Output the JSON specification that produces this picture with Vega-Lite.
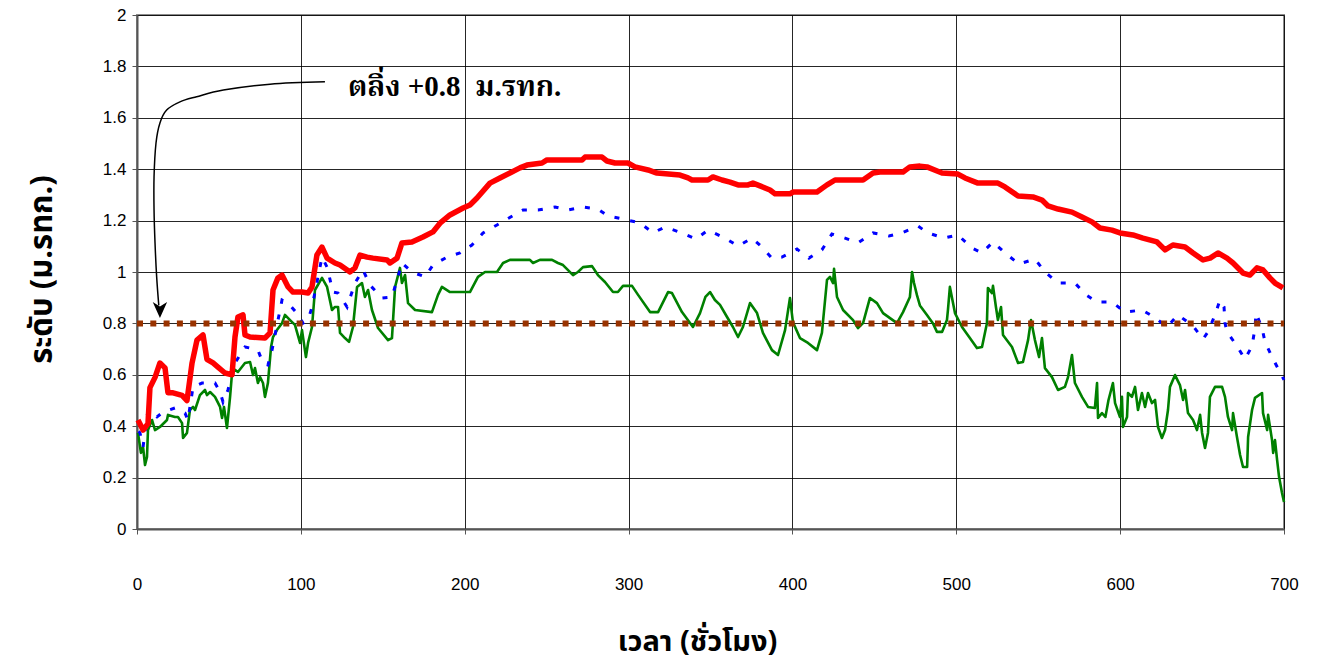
{
  "$schema": "https://vega.github.io/schema/vega-lite/v6.json",
  "autosize": "none",
  "width": 1147,
  "height": 514,
  "padding": {"left": 137, "top": 15, "right": 35, "bottom": 136},
  "background": "#ffffff",
  "config": {
    "view": {"stroke": "#8c8c8c", "strokeWidth": 2},
    "axis": {
      "labelFont": "Liberation Sans",
      "labelFontSize": 17,
      "labelColor": "#000000",
      "labelFlush": false,
      "gridColor": "#000000",
      "gridWidth": 1,
      "gridOpacity": 0.85,
      "domainColor": "#555555",
      "domainWidth": 2,
      "tickColor": "#555555",
      "tickSize": 5,
      "titleFont": "Noto Sans Thai, Tahoma, Loma, Garuda, sans-serif",
      "titleFontSize": 31,
      "titleFontWeight": "bold",
      "titleColor": "#000000"
    }
  },
  "layer": [
    {
      "data": {"values": [{"t": 0, "h": 0}, {"t": 700, "h": 2}]},
      "mark": {"type": "point", "opacity": 0},
      "encoding": {
        "x": {"field": "t", "type": "quantitative", "scale": {"domain": [0, 700], "nice": false},
          "axis": {"values": [0, 100, 200, 300, 400, 500, 600, 700], "labelPadding": 42, "title": "เวลา (ชั่วโมง)", "titleFontSize": 29, "titleX": 560, "titleY": 112, "titleBaseline": "middle", "titleAnchor": "start", "titleAlign": "center"}},
        "y": {"field": "h", "type": "quantitative", "scale": {"domain": [0, 2], "nice": false},
          "axis": {"values": [0, 0.2, 0.4, 0.6, 0.8, 1, 1.2, 1.4, 1.6, 1.8, 2], "format": "~g", "labelPadding": 6, "title": "ระดับ (ม.รทก.)", "titleX": -95, "titleY": 254, "titleBaseline": "middle", "titleAlign": "center", "titleAnchor": "start"}}
      }
    },
    {
      "data": {"values": [
        {"t":0.6,"h":0.374},{"t":2.4,"h":0.296},{"t":3.7,"h":0.319},{"t":4.9,"h":0.249},{"t":6.1,"h":0.28},{"t":6.7,"h":0.385},{"t":9.2,"h":0.424},{"t":11.0,"h":0.385},{"t":14.0,"h":0.397},{"t":18.3,"h":0.424},{"t":18.9,"h":0.444},{"t":23.2,"h":0.436},{"t":25.0,"h":0.436},{"t":27.5,"h":0.412},{"t":28.1,"h":0.354},{"t":30.5,"h":0.374},{"t":32.3,"h":0.463},{"t":34.2,"h":0.475},{"t":35.4,"h":0.463},{"t":38.4,"h":0.521},{"t":41.5,"h":0.541},{"t":42.7,"h":0.521},{"t":44.6,"h":0.533},{"t":47.6,"h":0.514},{"t":50.7,"h":0.475},{"t":51.9,"h":0.432},{"t":53.1,"h":0.475},{"t":54.9,"h":0.393},{"t":56.8,"h":0.514},{"t":58.0,"h":0.607},{"t":59.8,"h":0.619},{"t":61.6,"h":0.611},{"t":65.9,"h":0.646},{"t":69.0,"h":0.65},{"t":70.8,"h":0.599},{"t":72.0,"h":0.626},{"t":73.8,"h":0.568},{"t":75.1,"h":0.591},{"t":76.9,"h":0.568},{"t":78.1,"h":0.514},{"t":79.9,"h":0.568},{"t":81.8,"h":0.708},{"t":83.0,"h":0.747},{"t":85.4,"h":0.774},{"t":88.5,"h":0.801},{"t":90.3,"h":0.833},{"t":93.4,"h":0.813},{"t":96.4,"h":0.794},{"t":99.5,"h":0.724},{"t":100.7,"h":0.774},{"t":103.1,"h":0.669},{"t":104.4,"h":0.724},{"t":106.8,"h":0.786},{"t":108.6,"h":0.93},{"t":112.9,"h":0.977},{"t":116.0,"h":0.942},{"t":119.0,"h":0.852},{"t":120.8,"h":0.864},{"t":122.7,"h":0.864},{"t":123.9,"h":0.763},{"t":126.9,"h":0.743},{"t":129.4,"h":0.728},{"t":131.8,"h":0.786},{"t":134.3,"h":0.942},{"t":137.3,"h":0.957},{"t":139.1,"h":0.903},{"t":141.0,"h":0.93},{"t":143.4,"h":0.852},{"t":147.1,"h":0.782},{"t":153.2,"h":0.735},{"t":155.6,"h":0.743},{"t":157.5,"h":0.942},{"t":160.5,"h":1.016},{"t":161.7,"h":0.957},{"t":163.6,"h":0.988},{"t":165.4,"h":0.879},{"t":169.7,"h":0.852},{"t":180.0,"h":0.844},{"t":183.7,"h":0.911},{"t":186.1,"h":0.942},{"t":191.0,"h":0.922},{"t":203.2,"h":0.922},{"t":208.1,"h":0.981},{"t":212.4,"h":1.0},{"t":219.7,"h":1.0},{"t":223.4,"h":1.035},{"t":227.6,"h":1.047},{"t":239.8,"h":1.047},{"t":241.7,"h":1.035},{"t":245.9,"h":1.047},{"t":253.3,"h":1.047},{"t":256.9,"h":1.035},{"t":260.0,"h":1.027},{"t":266.1,"h":0.988},{"t":269.1,"h":1.0},{"t":272.2,"h":1.019},{"t":277.7,"h":1.023},{"t":281.3,"h":0.988},{"t":285.6,"h":0.961},{"t":290.5,"h":0.922},{"t":293.5,"h":0.922},{"t":296.6,"h":0.946},{"t":302.1,"h":0.946},{"t":305.8,"h":0.911},{"t":313.1,"h":0.844},{"t":318.0,"h":0.844},{"t":324.1,"h":0.922},{"t":326.5,"h":0.918},{"t":332.6,"h":0.844},{"t":339.3,"h":0.786},{"t":343.6,"h":0.84},{"t":346.9,"h":0.903},{"t":349.7,"h":0.922},{"t":352.7,"h":0.891},{"t":355.8,"h":0.872},{"t":360.1,"h":0.825},{"t":363.7,"h":0.786},{"t":366.8,"h":0.747},{"t":369.8,"h":0.786},{"t":374.1,"h":0.879},{"t":378.4,"h":0.84},{"t":382.0,"h":0.763},{"t":387.5,"h":0.696},{"t":391.2,"h":0.677},{"t":395.5,"h":0.774},{"t":398.5,"h":0.899},{"t":400.3,"h":0.805},{"t":404.6,"h":0.743},{"t":409.5,"h":0.724},{"t":415.0,"h":0.696},{"t":418.0,"h":0.763},{"t":421.1,"h":0.969},{"t":422.9,"h":0.981},{"t":424.8,"h":0.957},{"t":425.4,"h":1.012},{"t":427.2,"h":0.903},{"t":430.9,"h":0.852},{"t":437.0,"h":0.813},{"t":440.0,"h":0.782},{"t":443.1,"h":0.801},{"t":447.3,"h":0.899},{"t":451.6,"h":0.879},{"t":455.3,"h":0.84},{"t":463.8,"h":0.801},{"t":467.5,"h":0.844},{"t":471.7,"h":0.903},{"t":473.0,"h":1.0},{"t":474.2,"h":0.957},{"t":476.0,"h":0.91},{"t":477.8,"h":0.87},{"t":482.1,"h":0.833},{"t":485.7,"h":0.801},{"t":488.2,"h":0.767},{"t":491.3,"h":0.767},{"t":494.3,"h":0.813},{"t":494.9,"h":0.852},{"t":496.1,"h":0.942},{"t":499.2,"h":0.84},{"t":503.5,"h":0.786},{"t":508.3,"h":0.743},{"t":512.6,"h":0.704},{"t":515.7,"h":0.708},{"t":518.7,"h":0.801},{"t":519.3,"h":0.938},{"t":521.8,"h":0.918},{"t":522.4,"h":0.946},{"t":524.2,"h":0.864},{"t":525.4,"h":0.813},{"t":527.3,"h":0.864},{"t":528.5,"h":0.755},{"t":534.0,"h":0.708},{"t":537.7,"h":0.646},{"t":540.7,"h":0.65},{"t":543.8,"h":0.735},{"t":545.6,"h":0.813},{"t":548.0,"h":0.735},{"t":550.5,"h":0.669},{"t":552.3,"h":0.743},{"t":554.1,"h":0.626},{"t":558.4,"h":0.591},{"t":562.1,"h":0.541},{"t":566.3,"h":0.553},{"t":568.2,"h":0.591},{"t":570.6,"h":0.677},{"t":572.4,"h":0.568},{"t":576.7,"h":0.514},{"t":580.4,"h":0.475},{"t":584.6,"h":0.471},{"t":585.9,"h":0.568},{"t":586.5,"h":0.432},{"t":588.9,"h":0.451},{"t":591.0,"h":0.436},{"t":592.9,"h":0.502},{"t":595.6,"h":0.568},{"t":596.9,"h":0.49},{"t":599.9,"h":0.436},{"t":601.1,"h":0.514},{"t":601.7,"h":0.397},{"t":604.2,"h":0.436},{"t":604.8,"h":0.529},{"t":607.2,"h":0.514},{"t":609.1,"h":0.553},{"t":610.9,"h":0.463},{"t":613.3,"h":0.529},{"t":615.2,"h":0.475},{"t":617.0,"h":0.529},{"t":619.4,"h":0.49},{"t":621.3,"h":0.502},{"t":623.1,"h":0.397},{"t":625.5,"h":0.354},{"t":627.4,"h":0.385},{"t":629.2,"h":0.463},{"t":630.4,"h":0.553},{"t":633.5,"h":0.599},{"t":636.5,"h":0.56},{"t":638.4,"h":0.502},{"t":639.6,"h":0.541},{"t":641.4,"h":0.451},{"t":644.5,"h":0.424},{"t":646.9,"h":0.385},{"t":648.8,"h":0.444},{"t":650.0,"h":0.374},{"t":651.8,"h":0.315},{"t":653.6,"h":0.374},{"t":654.8,"h":0.514},{"t":657.9,"h":0.553},{"t":662.2,"h":0.553},{"t":664.0,"h":0.514},{"t":665.8,"h":0.436},{"t":668.3,"h":0.385},{"t":668.9,"h":0.451},{"t":671.3,"h":0.358},{"t":673.2,"h":0.288},{"t":675.0,"h":0.241},{"t":677.5,"h":0.241},{"t":678.1,"h":0.358},{"t":680.5,"h":0.463},{"t":682.3,"h":0.51},{"t":686.6,"h":0.529},{"t":687.2,"h":0.451},{"t":689.7,"h":0.385},{"t":690.3,"h":0.444},{"t":692.7,"h":0.346},{"t":693.4,"h":0.296},{"t":694.5,"h":0.346},{"t":695.8,"h":0.268},{"t":697.0,"h":0.202},{"t":698.8,"h":0.14},{"t":700,"h":0.105}
      ]},
      "mark": {"type": "line", "color": "#008000", "strokeWidth": 2.6, "strokeJoin": "round"},
      "encoding": {"x": {"field": "t", "type": "quantitative"}, "y": {"field": "h", "type": "quantitative"}}
    },
    {
      "data": {"values": [
        {"t":1.0,"h":0.38},{"t":1.8,"h":0.374},{"t":3.7,"h":0.32},{"t":6.7,"h":0.463},{"t":12.2,"h":0.436},{"t":15.9,"h":0.455},{"t":23.2,"h":0.471},{"t":29.3,"h":0.451},{"t":31.1,"h":0.424},{"t":34.2,"h":0.553},{"t":39.7,"h":0.568},{"t":47.6,"h":0.568},{"t":50.7,"h":0.533},{"t":52.5,"h":0.494},{"t":55.5,"h":0.541},{"t":59.8,"h":0.646},{"t":65.9,"h":0.708},{"t":69.0,"h":0.704},{"t":73.8,"h":0.696},{"t":76.9,"h":0.646},{"t":79.9,"h":0.638},{"t":82.4,"h":0.696},{"t":88.5,"h":0.891},{"t":92.2,"h":0.879},{"t":97.6,"h":0.84},{"t":101.3,"h":0.801},{"t":104.4,"h":0.813},{"t":106.8,"h":0.864},{"t":112.9,"h":1.058},{"t":116.0,"h":1.019},{"t":119.6,"h":0.922},{"t":122.7,"h":0.918},{"t":128.2,"h":0.864},{"t":133.0,"h":0.957},{"t":137.9,"h":1.008},{"t":142.2,"h":0.949},{"t":149.5,"h":0.899},{"t":155.6,"h":0.903},{"t":158.7,"h":0.969},{"t":161.7,"h":1.035},{"t":167.8,"h":1.0},{"t":175.8,"h":0.981},{"t":180.6,"h":1.027},{"t":189.2,"h":1.058},{"t":197.1,"h":1.074},{"t":204.4,"h":1.105},{"t":211.2,"h":1.152},{"t":219.7,"h":1.183},{"t":225.8,"h":1.206},{"t":235.6,"h":1.241},{"t":244.7,"h":1.241},{"t":255.1,"h":1.253},{"t":263.0,"h":1.241},{"t":272.2,"h":1.253},{"t":281.3,"h":1.245},{"t":287.4,"h":1.218},{"t":296.6,"h":1.206},{"t":307.0,"h":1.191},{"t":314.9,"h":1.152},{"t":322.2,"h":1.175},{"t":332.6,"h":1.152},{"t":341.1,"h":1.128},{"t":348.5,"h":1.163},{"t":358.8,"h":1.132},{"t":366.8,"h":1.101},{"t":375.3,"h":1.132},{"t":381.4,"h":1.097},{"t":387.5,"h":1.054},{"t":393.6,"h":1.058},{"t":402.8,"h":1.089},{"t":410.1,"h":1.054},{"t":418.0,"h":1.086},{"t":424.1,"h":1.148},{"t":432.1,"h":1.132},{"t":440.0,"h":1.113},{"t":449.2,"h":1.152},{"t":458.9,"h":1.14},{"t":466.9,"h":1.152},{"t":476.6,"h":1.179},{"t":482.7,"h":1.152},{"t":492.5,"h":1.132},{"t":501.0,"h":1.144},{"t":509.6,"h":1.093},{"t":515.7,"h":1.074},{"t":522.4,"h":1.117},{"t":529.7,"h":1.074},{"t":538.3,"h":1.031},{"t":548.0,"h":1.051},{"t":554.1,"h":1.0},{"t":562.1,"h":0.957},{"t":572.4,"h":0.957},{"t":579.2,"h":0.911},{"t":585.9,"h":0.883},{"t":595.0,"h":0.883},{"t":603.0,"h":0.844},{"t":613.3,"h":0.852},{"t":620.7,"h":0.825},{"t":628.6,"h":0.786},{"t":635.3,"h":0.833},{"t":644.5,"h":0.79},{"t":650.6,"h":0.739},{"t":653.6,"h":0.767},{"t":657.9,"h":0.833},{"t":660.9,"h":0.891},{"t":663.4,"h":0.864},{"t":664.0,"h":0.801},{"t":665.2,"h":0.767},{"t":671.3,"h":0.712},{"t":676.2,"h":0.661},{"t":680.5,"h":0.712},{"t":682.3,"h":0.782},{"t":682.9,"h":0.84},{"t":686.6,"h":0.782},{"t":688.4,"h":0.728},{"t":692.7,"h":0.669},{"t":698.8,"h":0.595},{"t":700,"h":0.58}
      ]},
      "mark": {"type": "line", "color": "#0000ff", "strokeWidth": 3, "strokeDash": [5, 11]},
      "encoding": {"x": {"field": "t", "type": "quantitative"}, "y": {"field": "h", "type": "quantitative"}}
    },
    {
      "data": {"values": [
        {"t":0.6,"h":0.424},{"t":3.7,"h":0.385},{"t":6.7,"h":0.41},{"t":7.9,"h":0.55},{"t":11.0,"h":0.59},{"t":14.0,"h":0.646},{"t":17.1,"h":0.627},{"t":18.9,"h":0.53},{"t":22.0,"h":0.53},{"t":27.5,"h":0.52},{"t":30.5,"h":0.50},{"t":33.6,"h":0.646},{"t":36.6,"h":0.735},{"t":40.3,"h":0.755},{"t":42.7,"h":0.66},{"t":46.4,"h":0.646},{"t":49.4,"h":0.63},{"t":53.7,"h":0.607},{"t":58.0,"h":0.60},{"t":59.8,"h":0.747},{"t":61.6,"h":0.825},{"t":64.7,"h":0.833},{"t":65.9,"h":0.755},{"t":69.0,"h":0.747},{"t":78.1,"h":0.743},{"t":81.2,"h":0.763},{"t":83.0,"h":0.93},{"t":86.0,"h":0.977},{"t":88.5,"h":0.988},{"t":92.2,"h":0.942},{"t":95.2,"h":0.922},{"t":100.7,"h":0.922},{"t":104.4,"h":0.918},{"t":106.8,"h":0.942},{"t":109.8,"h":1.066},{"t":112.9,"h":1.097},{"t":116.0,"h":1.054},{"t":120.8,"h":1.035},{"t":123.9,"h":1.027},{"t":130.0,"h":1.0},{"t":133.0,"h":1.016},{"t":136.1,"h":1.066},{"t":140.4,"h":1.058},{"t":144.0,"h":1.054},{"t":152.6,"h":1.047},{"t":154.4,"h":1.035},{"t":158.7,"h":1.054},{"t":161.7,"h":1.113},{"t":167.8,"h":1.117},{"t":174.5,"h":1.136},{"t":180.6,"h":1.156},{"t":184.9,"h":1.19},{"t":191.0,"h":1.222},{"t":199.0,"h":1.249},{"t":203.2,"h":1.261},{"t":207.5,"h":1.288},{"t":215.4,"h":1.346},{"t":221.5,"h":1.366},{"t":227.6,"h":1.385},{"t":233.7,"h":1.405},{"t":238.0,"h":1.416},{"t":247.2,"h":1.424},{"t":250.2,"h":1.436},{"t":271.6,"h":1.436},{"t":273.4,"h":1.447},{"t":283.8,"h":1.447},{"t":286.8,"h":1.432},{"t":291.7,"h":1.424},{"t":299.6,"h":1.424},{"t":303.9,"h":1.409},{"t":311.9,"h":1.397},{"t":317.3,"h":1.385},{"t":331.4,"h":1.377},{"t":336.3,"h":1.366},{"t":338.7,"h":1.358},{"t":348.5,"h":1.358},{"t":351.5,"h":1.37},{"t":357.0,"h":1.358},{"t":361.9,"h":1.35},{"t":366.8,"h":1.339},{"t":372.9,"h":1.339},{"t":375.9,"h":1.346},{"t":380.2,"h":1.335},{"t":386.3,"h":1.319},{"t":389.4,"h":1.304},{"t":398.5,"h":1.304},{"t":400.3,"h":1.311},{"t":415.0,"h":1.311},{"t":421.1,"h":1.339},{"t":426.0,"h":1.358},{"t":443.1,"h":1.358},{"t":449.2,"h":1.385},{"t":453.4,"h":1.389},{"t":467.5,"h":1.389},{"t":471.7,"h":1.409},{"t":477.8,"h":1.412},{"t":482.1,"h":1.409},{"t":491.3,"h":1.385},{"t":501.0,"h":1.381},{"t":505.3,"h":1.366},{"t":513.2,"h":1.346},{"t":525.4,"h":1.346},{"t":529.7,"h":1.331},{"t":537.7,"h":1.296},{"t":546.8,"h":1.292},{"t":552.3,"h":1.28},{"t":556.0,"h":1.257},{"t":562.1,"h":1.245},{"t":570.6,"h":1.233},{"t":576.7,"h":1.214},{"t":582.8,"h":1.195},{"t":587.7,"h":1.171},{"t":595.0,"h":1.163},{"t":599.9,"h":1.152},{"t":607.8,"h":1.144},{"t":613.9,"h":1.132},{"t":622.5,"h":1.117},{"t":627.4,"h":1.086},{"t":632.2,"h":1.105},{"t":639.6,"h":1.097},{"t":644.5,"h":1.074},{"t":650.6,"h":1.047},{"t":654.9,"h":1.054},{"t":659.7,"h":1.074},{"t":665.2,"h":1.054},{"t":668.9,"h":1.035},{"t":675.0,"h":0.996},{"t":679.2,"h":0.988},{"t":683.5,"h":1.016},{"t":687.2,"h":1.008},{"t":691.4,"h":0.977},{"t":694.5,"h":0.957},{"t":699.4,"h":0.938}
      ]},
      "mark": {"type": "line", "color": "#ff0000", "strokeWidth": 5.5, "strokeJoin": "round"},
      "encoding": {"x": {"field": "t", "type": "quantitative"}, "y": {"field": "h", "type": "quantitative"}}
    },
    {
      "data": {"values": [{"t": 0, "h": 0.8}, {"t": 700, "h": 0.8}]},
      "mark": {"type": "line", "color": "#993300", "strokeWidth": 6, "strokeDash": [6, 7.3], "strokeCap": "butt"},
      "encoding": {"x": {"field": "t", "type": "quantitative"}, "y": {"field": "h", "type": "quantitative"}}
    },
    {
      "data": {"values": [
        {"i": 1, "t": 114.7, "h": 1.740}, {"i": 2, "t": 81.2, "h": 1.731}, {"i": 3, "t": 52.7, "h": 1.708}, {"i": 4, "t": 36.4, "h": 1.682}, {"i": 5, "t": 26.2, "h": 1.662}, {"i": 6, "t": 18.1, "h": 1.630}, {"i": 7, "t": 14.0, "h": 1.580}, {"i": 8, "t": 11.6, "h": 1.502}, {"i": 9, "t": 10.4, "h": 1.370}, {"i": 10, "t": 10.4, "h": 1.241}, {"i": 11, "t": 11.0, "h": 1.113}, {"i": 12, "t": 12.0, "h": 0.981}, {"i": 13, "t": 13.3, "h": 0.87}
      ]},
      "mark": {"type": "line", "color": "#000000", "strokeWidth": 1.5, "interpolate": "cardinal"},
      "encoding": {"x": {"field": "t", "type": "quantitative"}, "y": {"field": "h", "type": "quantitative"}, "order": {"field": "i", "type": "quantitative"}}
    },
    {
      "data": {"values": [{"t": 14.0, "h": 0.821}]},
      "mark": {"type": "point", "shape": "M0,0 L-0.45,-1 L0,-0.72 L0.45,-1 Z", "size": 1024, "filled": true, "color": "#000000", "opacity": 1},
      "encoding": {"x": {"field": "t", "type": "quantitative"}, "y": {"field": "h", "type": "quantitative"}}
    },
    {
      "data": {"values": [{"t": 128.8, "h": 1.72, "label": "ตลิ่ง +0.8\u00a0 ม.รทก."}]},
      "mark": {"type": "text", "align": "left", "baseline": "middle", "font": "Liberation Serif, Noto Serif Thai, Noto Sans Thai, Loma, serif", "fontSize": 29, "fontWeight": "bold", "color": "#000000"},
      "encoding": {"x": {"field": "t", "type": "quantitative"}, "y": {"field": "h", "type": "quantitative"}, "text": {"field": "label"}}
    }
  ]
}
